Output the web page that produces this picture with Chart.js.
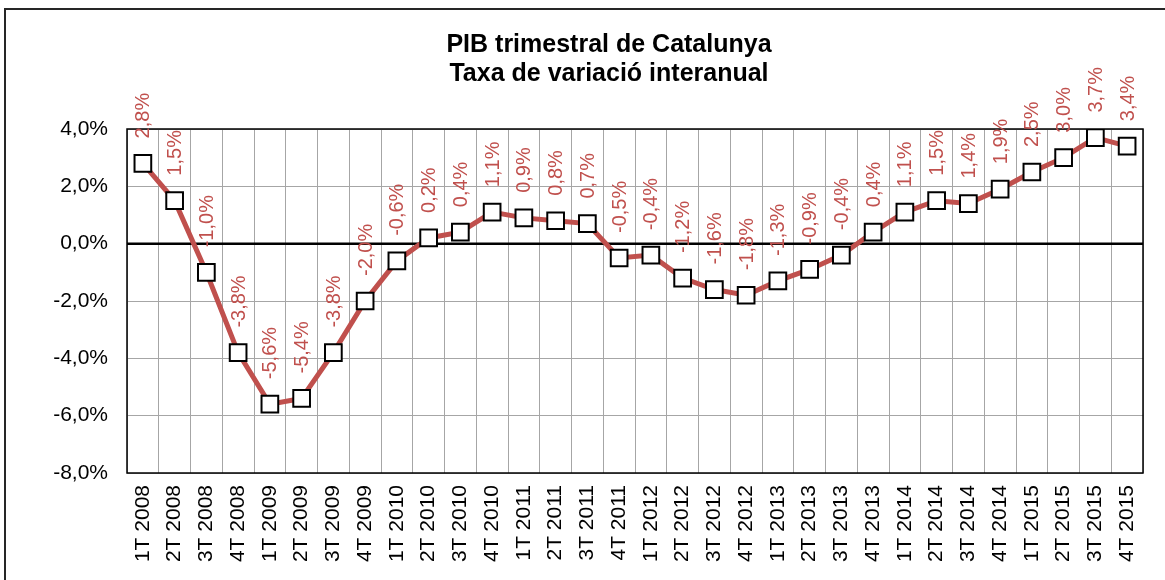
<!DOCTYPE html>
<html>
<head>
<meta charset="utf-8">
<script src="https://cdn.jsdelivr.net/npm/chart.js@4.4.1/dist/chart.umd.min.js"></script>
<style>
  html, body { margin: 0; padding: 0; background: #fff; overflow: hidden; }
  #wrap { position: relative; width: 1165px; height: 580px; }
  #frame { position: absolute; left: 4px; top: 8px; width: 1300px; height: 700px; border: 2px solid #262626; box-sizing: border-box; pointer-events: none; }
  canvas { position: absolute; left: 0; top: 0; }
</style>
</head>
<body>
<div id="wrap">
  <canvas id="c" width="1165" height="580"></canvas>
  <div id="frame"></div>
</div>
<script>
const titleLines = ["PIB trimestral de Catalunya", "Taxa de variació interanual"];
const categories = ["1T 2008","2T 2008","3T 2008","4T 2008","1T 2009","2T 2009","3T 2009","4T 2009",
  "1T 2010","2T 2010","3T 2010","4T 2010","1T 2011","2T 2011","3T 2011","4T 2011",
  "1T 2012","2T 2012","3T 2012","4T 2012","1T 2013","2T 2013","3T 2013","4T 2013",
  "1T 2014","2T 2014","3T 2014","4T 2014","1T 2015","2T 2015","3T 2015","4T 2015"];
const values = [2.8, 1.5, -1.0, -3.8, -5.6, -5.4, -3.8, -2.0,
  -0.6, 0.2, 0.4, 1.1, 0.9, 0.8, 0.7, -0.5,
  -0.4, -1.2, -1.6, -1.8, -1.3, -0.9, -0.4, 0.4,
  1.1, 1.5, 1.4, 1.9, 2.5, 3.0, 3.7, 3.4];
const yTicks = [-8, -6, -4, -2, 0, 2, 4];

const fmt = v => v.toFixed(1).replace('.', ',') + '%';
const FONT = '"Liberation Sans", Arial, sans-serif';

const titlePlugin = {
  id: 'customTitle',
  afterDraw(chart) {
    const ctx = chart.ctx;
    ctx.save();
    ctx.fillStyle = '#000';
    ctx.font = 'bold 25px ' + FONT;
    ctx.textAlign = 'center';
    ctx.textBaseline = 'alphabetic';
    ctx.fillText(titleLines[0], 609, 52);
    ctx.fillText(titleLines[1], 609, 81);
    ctx.restore();
  }
};

const labelPlugin = {
  id: 'rotLabels',
  afterDatasetsDraw(chart) {
    const ctx = chart.ctx;
    const meta = chart.getDatasetMeta(0);
    ctx.save();
    ctx.fillStyle = '#C0504D';
    ctx.font = '20px ' + FONT;
    ctx.textAlign = 'left';
    ctx.textBaseline = 'middle';
    meta.data.forEach((pt, i) => {
      ctx.save();
      ctx.translate(pt.x + 1, pt.y - 25);
      ctx.rotate(-Math.PI / 2);
      ctx.fillText(fmt(values[i]), 0, 0);
      ctx.restore();
    });
    ctx.restore();
  }
};

const borderPlugin = {
  id: 'plotBorder',
  beforeDatasetsDraw(chart) {
    const a = chart.chartArea, ctx = chart.ctx;
    const y0 = chart.scales.y.getPixelForValue(0);
    ctx.save();
    ctx.strokeStyle = '#000';
    ctx.lineWidth = 1.5;
    ctx.strokeRect(a.left, a.top, a.right - a.left, a.bottom - a.top);
    ctx.lineWidth = 2.5;
    ctx.beginPath();
    ctx.moveTo(a.left, y0);
    ctx.lineTo(a.right, y0);
    ctx.stroke();
    ctx.restore();
  }
};

new Chart(document.getElementById('c'), {
  type: 'line',
  data: {
    labels: categories,
    datasets: [{
      data: values,
      borderColor: '#C0504D',
      borderWidth: 5,
      tension: 0,
      pointStyle: 'rect',
      pointRadius: 11.8,
      pointBackgroundColor: '#fff',
      pointBorderColor: '#000',
      pointBorderWidth: 2,
      pointHoverRadius: 11.8
    }]
  },
  options: {
    responsive: false,
    animation: false,
    events: [],
    layout: { padding: { left: 0, right: 22, top: 129, bottom: 0 } },
    plugins: { legend: { display: false }, title: { display: false }, tooltip: { enabled: false } },
    scales: {
      x: {
        type: 'category',
        offset: true,
        grid: { offset: true, color: '#A6A6A6', lineWidth: 1, drawTicks: false },
        border: { display: false },
        ticks: {
          color: '#000', font: { family: FONT, size: 21 },
          minRotation: 90, maxRotation: 90, autoSkip: false, padding: 12
        },
        afterFit(s) { s.height = 107; }
      },
      y: {
        min: -8, max: 4,
        afterBuildTicks(s) { s.ticks = yTicks.map(v => ({ value: v })); },
        grid: { color: '#A6A6A6', lineWidth: 1, drawTicks: false },
        border: { display: false },
        ticks: {
          color: '#000', font: { family: FONT, size: 21 }, padding: 19,
          callback: v => fmt(v)
        },
        afterFit(s) { s.width = 127; }
      }
    }
  },
  plugins: [titlePlugin, labelPlugin, borderPlugin]
});
</script>
</body>
</html>
